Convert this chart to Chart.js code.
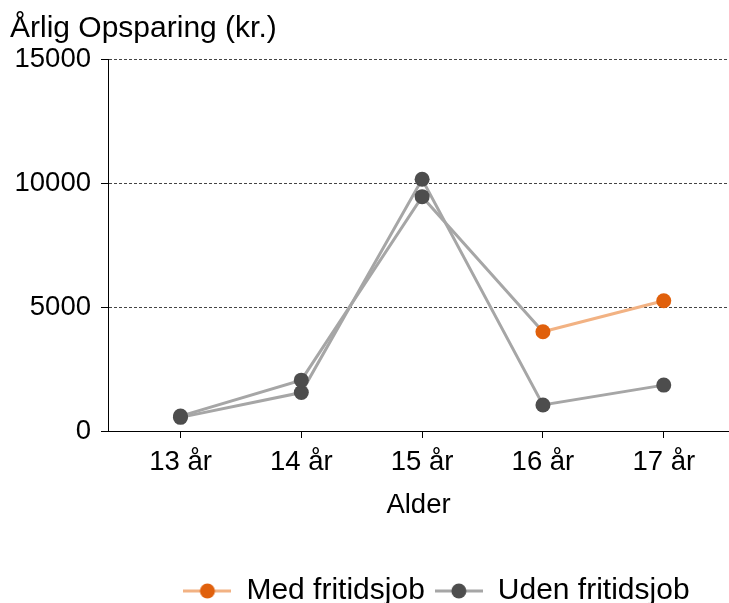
<!DOCTYPE html>
<html lang="da">
<head>
    <meta charset="UTF-8">
    <title>Årlig Opsparing</title>
    <script src="https://cdn.jsdelivr.net/npm/chart.js"></script>
    <style>
        body, html {
            margin: 0;
            padding: 0;
            overflow: hidden;
            background: #fff;
        }
        canvas { display: block; }
    </style>
</head>
<body>
    <canvas id="savingsChart" width="729" height="603"></canvas>

    <script>
        const ages = ['13 år', '14 år', '15 år', '16 år', '17 år'];
        const ageValues = [13, 14, 15, 16, 17];
        const medFritidsjob = [600, 2050, 9450, 4000, 5250];
        const udenFritidsjob = [550, 1550, 10150, 1050, 1850];
        const yTicks = [0, 5000, 10000, 15000];

        const FONT = '"Liberation Sans", Arial, sans-serif';
        const gray = '#a6a6a6';
        const darkDot = '#4d4d4d';
        const orangeDot = '#e0600c';
        const lightOrange = '#f2b283';
        const firstOrange = 3; // Med fritidsjob turns orange from 16 år

        // legend swatch: line with a dot in the middle
        function swatch(lineColor, dotColor) {
            const c = document.createElement('canvas');
            c.width = 48; c.height = 18;
            const g = c.getContext('2d');
            g.strokeStyle = lineColor; g.lineWidth = 3;
            g.beginPath(); g.moveTo(0, 9); g.lineTo(48, 9); g.stroke();
            g.fillStyle = dotColor;
            g.beginPath(); g.arc(24, 9, 7.5, 0, Math.PI * 2); g.fill();
            return c;
        }

        // nudge the legend row to the right, like the original
        const legendShift = {
            id: 'legendShift',
            afterLayout(chart) {
                chart.legend.left += 18;
                chart.legend.right += 18;
            }
        };

        const ctx = document.getElementById('savingsChart').getContext('2d');
        new Chart(ctx, {
            type: 'line',
            data: {
                datasets: [
                    {
                        label: 'Med fritidsjob',
                        data: medFritidsjob.map((v, i) => ({ x: ageValues[i], y: v })),
                        borderColor: gray,
                        borderWidth: 3,
                        segment: { borderColor: c => c.p0DataIndex >= firstOrange ? lightOrange : gray },
                        pointBackgroundColor: medFritidsjob.map((v, i) => i >= firstOrange ? orangeDot : darkDot),
                        pointBorderWidth: 0,
                        pointRadius: 7.5,
                        pointHoverRadius: 7.5,
                        tension: 0
                    },
                    {
                        label: 'Uden fritidsjob',
                        data: udenFritidsjob.map((v, i) => ({ x: ageValues[i], y: v })),
                        borderColor: gray,
                        borderWidth: 3,
                        pointBackgroundColor: darkDot,
                        pointBorderWidth: 0,
                        pointRadius: 7.5,
                        pointHoverRadius: 7.5,
                        tension: 0
                    }
                ]
            },
            plugins: [legendShift],
            options: {
                responsive: false,
                animation: false,
                layout: { autoPadding: false, padding: { left: 10, right: 0, top: 0, bottom: -13 } },
                scales: {
                    x: {
                        type: 'linear',
                        min: 12.4,
                        max: 17.54,
                        afterBuildTicks: s => { s.ticks = ageValues.map(v => ({ value: v })); },
                        ticks: {
                            callback: v => ages[ageValues.indexOf(v)],
                            color: '#000',
                            font: { family: FONT, size: 27.5 },
                            padding: 8,
                            maxRotation: 0
                        },
                        grid: { drawOnChartArea: false, tickLength: 7, tickColor: '#000', color: '#000' },
                        border: { color: '#000', width: 1 },
                        title: {
                            display: true,
                            text: 'Alder',
                            color: '#000',
                            font: { family: FONT, size: 27.5 },
                            padding: { top: 6, bottom: 44 }
                        },
                        afterFit: s => { s.height = 135; s.paddingLeft = 0; s.paddingRight = 0; }
                    },
                    y: {
                        min: 0,
                        max: 15000,
                        afterBuildTicks: s => { s.ticks = yTicks.map(v => ({ value: v })); },
                        ticks: {
                            callback: v => String(v),
                            color: '#000',
                            font: { family: FONT, size: 27.5 },
                            padding: 10
                        },
                        grid: { color: '#444', lineWidth: 1, tickLength: 7, tickColor: '#000', tickBorderDash: [] },
                        border: { color: '#000', width: 1, dash: [3, 2] },
                        afterFit: s => { s.width = 98; }
                    }
                },
                plugins: {
                    title: {
                        display: true,
                        text: 'Årlig Opsparing (kr.)',
                        align: 'start',
                        color: '#000',
                        font: { family: FONT, size: 30, weight: 'normal' },
                        padding: { top: 11, bottom: 12 }
                    },
                    legend: {
                        position: 'bottom',
                        align: 'center',
                        fullSize: false,
                        labels: {
                            usePointStyle: true,
                            pointStyleWidth: 48,
                            color: '#000',
                            font: { family: FONT, size: 30 },
                            padding: 10,
                            generateLabels: chart => [
                                { text: 'Med fritidsjob', pointStyle: swatch(lightOrange, orangeDot), datasetIndex: 0, fontColor: '#000', lineWidth: 0, strokeStyle: 'transparent', fillStyle: 'transparent' },
                                { text: 'Uden fritidsjob', pointStyle: swatch(gray, darkDot), datasetIndex: 1, fontColor: '#000', lineWidth: 0, strokeStyle: 'transparent', fillStyle: 'transparent' }
                            ]
                        }
                    },
                    tooltip: { enabled: false }
                }
            }
        });
    </script>
</body>
</html>
